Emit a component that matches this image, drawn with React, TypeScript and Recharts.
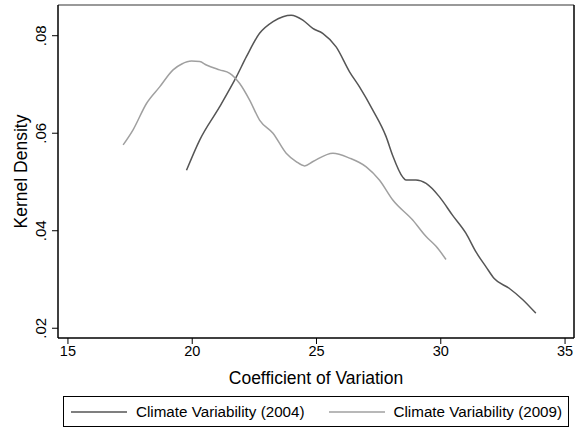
import { LineChart, Line, XAxis, YAxis, Label, ReferenceLine } from "recharts";

// Kernel density of the coefficient of variation
const cv2004 = [19.77, 20.3, 21.1, 21.78, 22.18, 22.71, 23.25, 23.65, 23.98, 24.45, 24.85, 25.25, 25.79, 26.33, 26.73, 27.26, 27.8, 28.06, 28.47, 28.6, 29.0, 29.41, 29.94, 30.47, 31.01, 31.41, 31.82, 32.15, 32.75, 33.29, 33.82];
const dens2004 = [0.0524, 0.0586, 0.0654, 0.0716, 0.0757, 0.0805, 0.0829, 0.0839, 0.0842, 0.0832, 0.0815, 0.0805, 0.0777, 0.0726, 0.0695, 0.0648, 0.0593, 0.0555, 0.051, 0.0504, 0.0504, 0.0497, 0.047, 0.0432, 0.0395, 0.0357, 0.0326, 0.0302, 0.0282, 0.0259, 0.0231];

const cv2009 = [17.22, 17.62, 18.16, 18.69, 19.23, 19.58, 19.97, 20.3, 20.57, 21.1, 21.51, 21.91, 22.31, 22.71, 23.25, 23.78, 24.18, 24.52, 24.86, 25.66, 26.33, 27.0, 27.53, 28.07, 28.87, 29.41, 29.81, 30.21];
const dens2009 = [0.0576, 0.0607, 0.0661, 0.0695, 0.073, 0.0742, 0.0748, 0.0747, 0.074, 0.073, 0.0723, 0.0702, 0.0668, 0.0627, 0.06, 0.0559, 0.0542, 0.0533, 0.0542, 0.0559, 0.0549, 0.0531, 0.0504, 0.0463, 0.0422, 0.0388, 0.0368, 0.0341];

const xTicks = [15, 20, 25, 30, 35];
const yTicks = [0.02, 0.04, 0.06, 0.08];
const xDomain = [14.6, 35.36];
const yDomain = [0.018, 0.0863];

const series = [
  { name: "Climate Variability (2004)", color: "#555555", data: cv2004.map((cv, i) => ({ cv, d: dens2004[i] })) },
  { name: "Climate Variability (2009)", color: "#a0a0a0", data: cv2009.map((cv, i) => ({ cv, d: dens2009[i] })) },
];

const FONT = "'Liberation Sans', Arial, Helvetica, sans-serif";

const YTick = (props: any) => {
  const { x, y, payload } = props;
  const txt = payload.value.toFixed(2).replace(/^0/, "");
  const bx = x - 4;
  return (
    <text x={bx} y={y} transform={`rotate(-90, ${bx}, ${y})`} textAnchor="middle" fontSize={15} fontFamily={FONT} fill="#000">
      {txt}
    </text>
  );
};

const YLabel = (props: any) => {
  const vb = props.viewBox;
  const cx = 21;
  const cy = vb.y + vb.height / 2;
  return (
    <text
      x={cx}
      y={cy}
      transform={`rotate(-90, ${cx}, ${cy})`}
      textAnchor="middle"
      dominantBaseline="central"
      fontSize={17.5}
      fontFamily={FONT}
      fill="#000"
    >
      Kernel Density
    </text>
  );
};

const LegendBox = () => (
  <div
    style={{
      position: "absolute",
      left: 63,
      top: 396,
      width: 506,
      height: 31,
      border: "1px solid #000",
      boxSizing: "border-box",
      display: "flex",
      alignItems: "center",
      fontFamily: FONT,
      fontSize: 15.2,
      color: "#000",
      whiteSpace: "nowrap",
    }}
  >
    {series.map((s, i) => (
      <div key={s.name} style={{ display: "flex", alignItems: "center", marginLeft: i === 0 ? 7 : 24 }}>
        <svg width={56} height={4}>
          <line x1={0} y1={2} x2={56} y2={2} stroke={s.color} strokeWidth={1.5} />
        </svg>
        <span style={{ marginLeft: 9 }}>{s.name}</span>
      </div>
    ))}
  </div>
);

export default function App() {
  return (
    <div style={{ position: "absolute", left: 0, top: 0, width: 576, height: 430, background: "#fff" }}>
      <LineChart width={576} height={430} margin={{ top: 5, right: 2, left: 0, bottom: 42 }}>
        <XAxis
          dataKey="cv"
          type="number"
          domain={xDomain}
          ticks={xTicks}
          allowDataOverflow
          height={50}
          tickSize={6}
          tickLine={{ stroke: "#000" }}
          axisLine={{ stroke: "#000", strokeWidth: 1.5 }}
          tick={{ fontSize: 14.5, fill: "#000", fontFamily: FONT }}
        >
          <Label
            value="Coefficient of Variation"
            position="insideBottom"
            offset={4}
            style={{ fontSize: 17.5, fill: "#000", fontFamily: FONT }}
          />
        </XAxis>
        <YAxis
          dataKey="d"
          type="number"
          domain={yDomain}
          ticks={yTicks}
          allowDataOverflow
          width={58}
          tickSize={6}
          tickLine={{ stroke: "#000" }}
          axisLine={{ stroke: "#000", strokeWidth: 1.5 }}
          tick={<YTick />}
        >
          <Label content={<YLabel />} />
        </YAxis>
        {/* frame: top and right edges of the plot region */}
        <ReferenceLine y={yDomain[1]} stroke="#777" strokeWidth={1.5} />
        <ReferenceLine x={xDomain[1]} stroke="#000" strokeWidth={1.5} />
        {series.map((s) => (
          <Line
            key={s.name}
            data={s.data}
            dataKey="d"
            name={s.name}
            type="monotone"
            stroke={s.color}
            strokeWidth={1.5}
            dot={false}
            isAnimationActive={false}
          />
        ))}
      </LineChart>
      <LegendBox />
    </div>
  );
}
